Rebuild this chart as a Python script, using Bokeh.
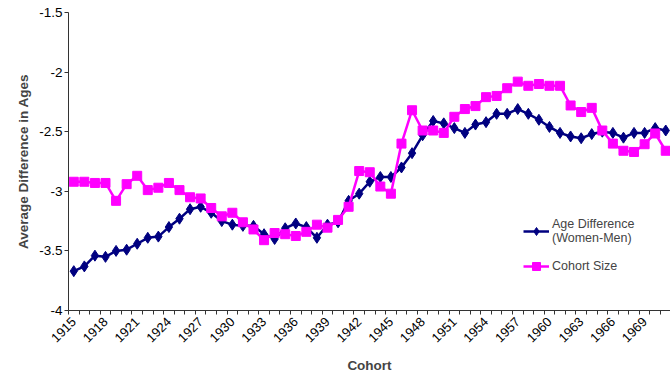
import math
from bokeh.plotting import figure
from bokeh.models import FixedTicker, CustomJSTickFormatter, Range1d, Legend, LegendItem
from bokeh.embed import file_html
from bokeh.resources import INLINE

years = list(range(1915, 1972))
age_diff = [
    -3.67, -3.63, -3.54, -3.55, -3.50, -3.49, -3.44, -3.39, -3.38, -3.30,
    -3.23, -3.15, -3.13, -3.18, -3.25, -3.28, -3.29, -3.29, -3.36, -3.40,
    -3.31, -3.27, -3.30, -3.39, -3.28, -3.26, -3.08, -3.02, -2.92, -2.88,
    -2.88, -2.80, -2.68, -2.53, -2.41, -2.43, -2.47, -2.51, -2.44, -2.42,
    -2.35, -2.35, -2.31, -2.35, -2.40, -2.46, -2.51, -2.54, -2.555, -2.52,
    -2.50, -2.51, -2.55, -2.51, -2.51, -2.47, -2.49]
cohort_size = [
    -2.92, -2.92, -2.93, -2.93, -3.08, -2.94, -2.87, -2.99, -2.97, -2.93,
    -2.99, -3.05, -3.06, -3.14, -3.21, -3.18, -3.26, -3.32, -3.41, -3.35,
    -3.36, -3.375, -3.34, -3.28, -3.305, -3.24, -3.13, -2.83, -2.84, -2.96,
    -3.02, -2.60, -2.32, -2.49, -2.49, -2.51, -2.375, -2.31, -2.285, -2.21,
    -2.20, -2.135, -2.08, -2.115, -2.10, -2.115, -2.115, -2.28, -2.335, -2.30,
    -2.49, -2.60, -2.66, -2.67, -2.605, -2.515, -2.66]
label_years = list(range(1915, 1972, 3))
y_ticks = [-4, -3.5, -3, -2.5, -2, -1.5]
series_names = ["Age Difference\n(Women-Men)", "Cohort Size"]

FONT = "Liberation Sans"

p = figure(width=670, height=376, output_backend="svg", toolbar_location=None,
           x_range=Range1d(1914.5, 1971.45), y_range=Range1d(-4, -1.5),
           min_border_left=68, min_border_right=0, min_border_top=12,
           min_border_bottom=63)
p.outline_line_color = None
p.xgrid.visible = False
p.ygrid.visible = False
p.background_fill_color = "white"
p.border_fill_color = "white"

# axes
xa = p.xaxis[0]
xa.ticker = FixedTicker(ticks=label_years,
                        minor_ticks=[y - 0.5 for y in years] + [years[-1] + 0.5])
xa.major_tick_out = 0
xa.major_tick_in = 0
xa.minor_tick_out = 4
xa.minor_tick_in = 0
xa.major_label_orientation = math.pi / 4
xa.major_label_standoff = 5
xa.axis_label = "Cohort"
xa.axis_label_text_font = FONT
xa.axis_label_text_font_style = "bold"
xa.axis_label_text_font_size = "13.5px"
xa.axis_label_standoff = 9
xa.major_label_text_font = FONT
xa.major_label_text_font_size = "13px"
xa.major_label_text_color = "black"
xa.axis_line_color = "#333333"
xa.minor_tick_line_color = "#333333"

ya = p.yaxis[0]
ya.ticker = FixedTicker(ticks=y_ticks)
ya.formatter = CustomJSTickFormatter(code="return tick.toString();")
ya.major_tick_out = 4
ya.major_tick_in = 0
ya.minor_tick_out = 0
ya.minor_tick_in = 0
ya.major_label_standoff = 2
ya.axis_label = "Average Difference in Ages"
ya.axis_label_text_font = FONT
ya.axis_label_text_font_style = "bold"
ya.axis_label_text_font_size = "13.5px"
ya.axis_label_standoff = 5
ya.major_label_text_font = FONT
ya.major_label_text_font_size = "13.5px"
ya.major_label_text_color = "black"
ya.axis_line_color = "#333333"
ya.major_tick_line_color = "#333333"

# series
l1 = p.line(years, age_diff, line_color="#000080", line_width=2.5)
m1 = p.scatter(years, age_diff, marker="diamond", size=11, color="#000080")
l2 = p.line(years, cohort_size, line_color="#FF00FF", line_width=2.5)
m2 = p.scatter(years, cohort_size, marker="square", size=9, color="#FF00FF")

legend = Legend(items=[LegendItem(label=series_names[0], renderers=[l1, m1]),
                       LegendItem(label=series_names[1], renderers=[l2, m2])],
                location=(455, 34))
legend.border_line_color = None
legend.background_fill_alpha = 0
legend.padding = 0
legend.margin = 0
legend.spacing = 11
legend.glyph_width = 26
legend.label_standoff = 3
legend.label_text_font = FONT
legend.label_text_font_size = "12.5px"
p.add_layout(legend)

open("out.html", "w").write(file_html(p, INLINE))
